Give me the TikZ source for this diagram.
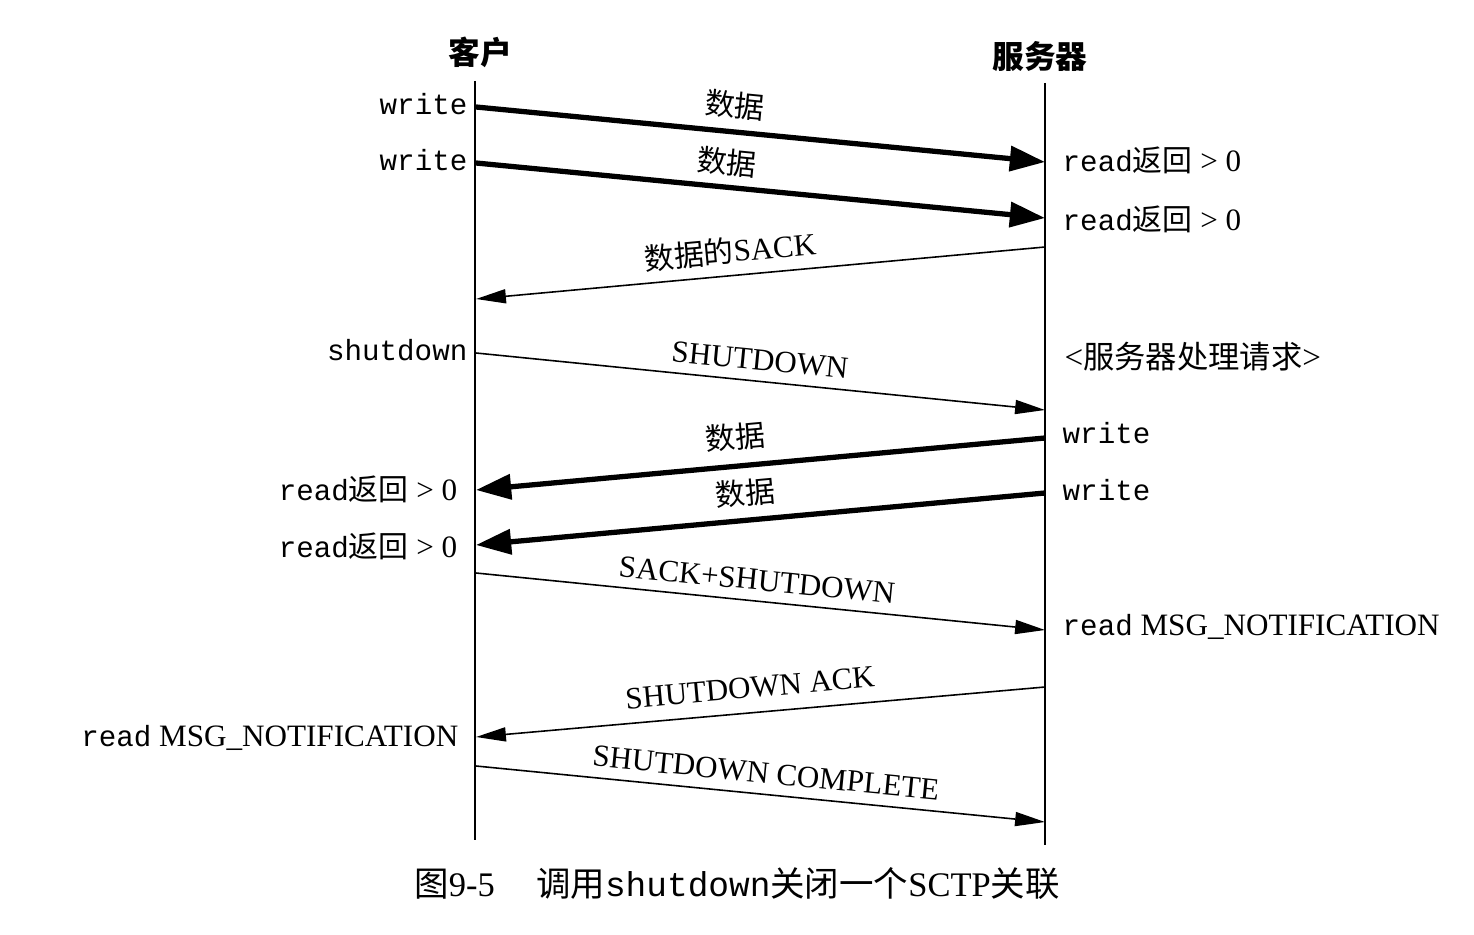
\documentclass[tikz,border=0pt]{standalone}
\usepackage{fontspec}
\setmainfont{Liberation Serif}
\newfontfamily\cjk{Noto Sans CJK SC}
\newfontfamily\mono{Liberation Mono}
\usetikzlibrary{arrows.meta}
\tikzset{
  lifeline/.style={line width=0.6pt},
  thickmsg/.style={line width=1.5pt, -{Triangle[length=10pt,width=7pt]}},
  thinmsg/.style={line width=0.45pt, -{Triangle[length=8.5pt,width=4pt]}},
  lbl/.style={inner sep=0pt, font=\fontsize{8.8}{10}\selectfont},
  side/.style={inner sep=0pt, font=\fontsize{8.85}{10}\selectfont},
  head/.style={inner sep=0pt, font=\fontsize{9}{11}\selectfont\cjk\bfseries},
  captext/.style={inner sep=0pt, font=\fontsize{9.8}{11}\selectfont},
}
\newcommand{\cw}[1]{{\fontsize{8.5}{10}\selectfont\cjk #1}}
\newcommand{\mw}[1]{{\fontsize{8.3}{10}\selectfont\mono #1}}
\begin{document}
\begin{tikzpicture}[x=0.01cm,y=-0.01cm]
\useasboundingbox (0,0) rectangle (1474,934);
% headers
\node[head] (hc) at (480,52) {客户};
\node[head] (hs) at (1040,56) {服务器};
% lifelines
\coordinate (ct) at (475,81);
\coordinate (cb) at (475,840);
\coordinate (st) at (1045,83);
\coordinate (sb) at (1045,845);
\draw[lifeline] (ct) -- (cb);
\draw[lifeline] (st) -- (sb);
% endpoints
\coordinate (c1) at (476,107); \coordinate (s1) at (1045,162);
\coordinate (c2) at (476,163); \coordinate (s2) at (1045,218);
\coordinate (s3) at (1045,247); \coordinate (c3) at (476,299);
\coordinate (c4) at (476,353); \coordinate (s4) at (1045,410);
\coordinate (s5) at (1045,438); \coordinate (c5) at (476,490);
\coordinate (s6) at (1045,493); \coordinate (c6) at (476,545);
\coordinate (c7) at (476,573); \coordinate (s7) at (1045,630);
\coordinate (s8) at (1045,687); \coordinate (c8) at (476,737);
\coordinate (c9) at (476,766); \coordinate (s9) at (1045,822);
% messages
\draw[thickmsg] (c1) -- (s1);
\draw[thickmsg] (c2) -- (s2);
\draw[thinmsg] (s3) -- (c3);
\draw[thinmsg] (c4) -- (s4);
\draw[thickmsg] (s5) -- (c5);
\draw[thickmsg] (s6) -- (c6);
\draw[thinmsg] (c7) -- (s7);
\draw[thinmsg] (s8) -- (c8);
\draw[thinmsg] (c9) -- (s9);
% message labels
\node[lbl, rotate=-5.5] (m1) at (735,105) {\cw{数据}};
\node[lbl, rotate=-5.5] (m2) at (727,162) {\cw{数据}};
\node[lbl, rotate=5.2] (m3) at (730,251) {\cw{数据的}SACK};
\node[lbl, rotate=-5.5] (m4) at (760,360) {SHUTDOWN};
\node[lbl, rotate=5.2] (m5) at (735,437) {\cw{数据}};
\node[lbl, rotate=5.2] (m6) at (745,493) {\cw{数据}};
\node[lbl, rotate=-5.6] (m7) at (757,580) {SACK+SHUTDOWN};
\node[lbl, rotate=5.2] (m8) at (750,688) {SHUTDOWN ACK};
\node[lbl, rotate=-5.6] (m9) at (766,773) {SHUTDOWN COMPLETE};
% client side labels
\node[side, anchor=east] (cl1) at (468,104) {\mw{write}};
\node[side, anchor=east] (cl2) at (468,160) {\mw{write}};
\node[side, anchor=east] (cl4) at (468,350) {\mw{shutdown}};
\node[side, anchor=east] (cl5) at (458,489) {\mw{read}\cw{返回} > 0};
\node[side, anchor=east] (cl6) at (458,546) {\mw{read}\cw{返回} > 0};
\node[side, anchor=east] (cl8) at (459,738) {\mw{read} MSG\_NOTIFICATION};
% server side labels
\node[side, anchor=west] (sl1) at (1062,160) {\mw{read}\cw{返回} > 0};
\node[side, anchor=west] (sl2) at (1062,219) {\mw{read}\cw{返回} > 0};
\node[side, anchor=west] (sl4) at (1064,357) {{\fontsize{9.4}{10}\selectfont<}{\fontsize{8.9}{10}\selectfont\cjk 服务器处理请求}{\fontsize{9.4}{10}\selectfont>}};
\node[side, anchor=west] (sl5) at (1062,433) {\mw{write}};
\node[side, anchor=west] (sl6) at (1062,490) {\mw{write}};
\node[side, anchor=west] (sl7) at (1062,627) {\mw{read} MSG\_NOTIFICATION};
% caption
\node[captext] (caption) at (737,884) {{\cjk 图}9-5\hspace{1.2em}{\cjk 调用}{\mono shutdown}{\cjk 关闭一个}SCTP{\cjk 关联}};
\end{tikzpicture}
\end{document}
